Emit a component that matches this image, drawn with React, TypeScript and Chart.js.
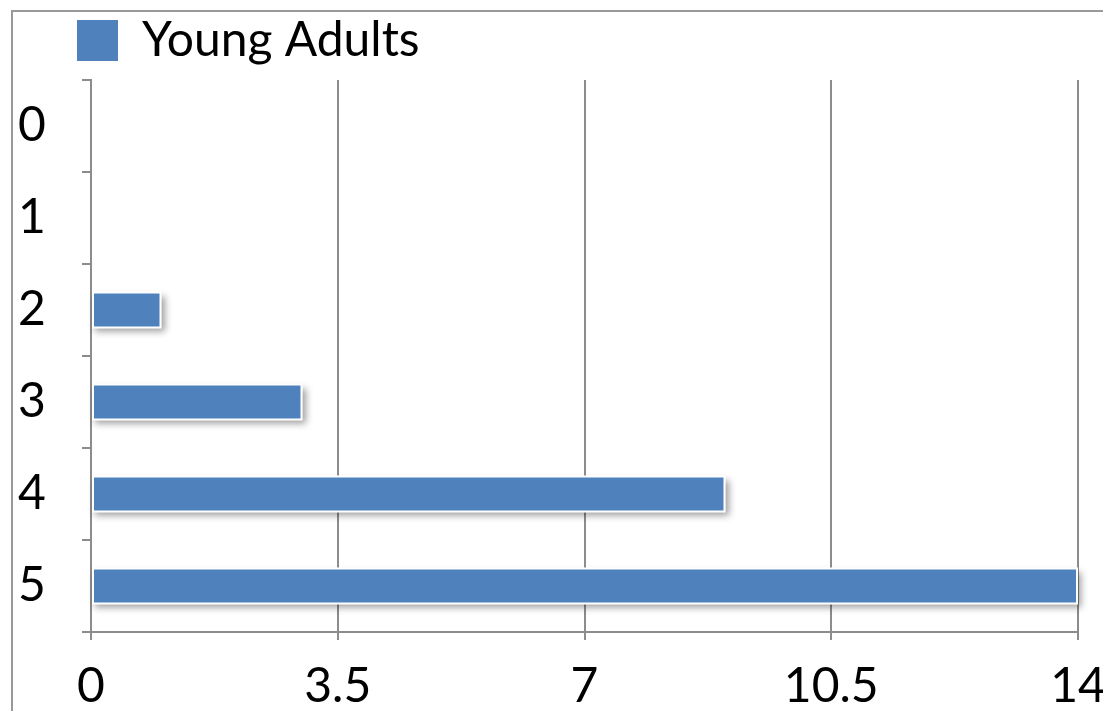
import React, { useEffect, useRef } from "react";
import { Chart, registerables } from "chart.js";

Chart.register(...registerables);

// Survey buckets (rows) and how many young adults chose each
const categories = ["0", "1", "2", "3", "4", "5"];
const youngAdults = [0, 0, 1, 3, 9, 14];
const seriesLabel = "Young Adults";

// Value axis ticks
const xTickValues = [0, 3.5, 7, 10.5, 14];

const CANVAS_W = 1160;
const CANVAS_H = 711;
const FONT_FAMILY = "Lato, 'Open Sans', sans-serif";
const AXIS_GREY = "#8c8c8c";
const BAR_BLUE = "#4F81BD";

// White page with the thin grey frame around the chart
const framePlugin = {
  id: "frame",
  beforeDraw(chart: any) {
    const { ctx, width, height } = chart;
    ctx.save();
    ctx.fillStyle = "#ffffff";
    ctx.fillRect(0, 0, width, height);
    ctx.strokeStyle = "#999999";
    ctx.lineWidth = 2;
    ctx.beginPath();
    ctx.moveTo(12, height + 10);
    ctx.lineTo(12, 11);
    ctx.lineTo(width + 10, 11);
    ctx.stroke();
    ctx.restore();
  },
};

// Soft drop shadow under every bar
const barShadowPlugin = {
  id: "barShadow",
  beforeDatasetsDraw(chart: any) {
    const { ctx } = chart;
    chart.data.datasets.forEach((_: any, di: number) => {
      const meta = chart.getDatasetMeta(di);
      meta.data.forEach((bar: any) => {
        const { x, y, base, height } = bar.getProps(["x", "y", "base", "height"], true);
        const left = Math.min(x, base);
        const w = Math.abs(x - base);
        if (w < 1) return;
        ctx.save();
        ctx.shadowColor = "rgba(0,0,0,0.38)";
        ctx.shadowBlur = 7;
        ctx.shadowOffsetX = 3;
        ctx.shadowOffsetY = 4;
        ctx.fillStyle = "#ffffff";
        ctx.fillRect(left, y - height / 2, w, height);
        ctx.restore();
      });
    });
  },
};

// Legend sits at the top-left with a fixed band height above the plot
const legendPlacePlugin = {
  id: "legendPlace",
  beforeLayout(chart: any) {
    const legend = chart.legend;
    if (legend && !legend.__fixedFit) {
      const fit = legend.fit.bind(legend);
      legend.fit = function () {
        fit();
        this.height = 80;
      };
      legend.__fixedFit = true;
    }
  },
  afterLayout(chart: any) {
    const legend = chart.legend;
    if (legend) {
      legend.left = 67;
      legend.top = 6.5;
    }
  },
};

export default function App() {
  const canvasRef = useRef<HTMLCanvasElement | null>(null);

  useEffect(() => {
    document.body.style.margin = "0";
    const canvas = canvasRef.current;
    if (!canvas) return;

    const chart = new Chart(canvas, {
      type: "bar",
      data: {
        labels: categories,
        datasets: [
          {
            label: seriesLabel,
            data: youngAdults,
            backgroundColor: BAR_BLUE,
            borderColor: "#ffffff",
            borderWidth: 2,
            borderSkipped: false,
            barPercentage: 0.4,
            categoryPercentage: 1.0,
          },
        ],
      },
      options: {
        indexAxis: "y",
        responsive: false,
        animation: false,
        devicePixelRatio: 1,
        layout: {
          padding: { top: 0, left: 18, right: CANVAS_W - 1078, bottom: 0 },
        },
        plugins: {
          tooltip: { enabled: false },
          legend: {
            display: true,
            position: "top",
            align: "start",
            labels: {
              boxWidth: 41,
              boxHeight: 41,
              padding: 10,
              color: "#000000",
              font: { family: FONT_FAMILY, size: 48 },
              generateLabels: (c: any) =>
                Chart.defaults.plugins.legend.labels
                  .generateLabels(c)
                  .map((item: any) => ({ ...item, lineWidth: 0, strokeStyle: BAR_BLUE })),
            },
          },
        },
        scales: {
          x: {
            type: "linear",
            position: "bottom",
            min: 0,
            max: 14,
            afterBuildTicks: (scale: any) => {
              scale.ticks = xTickValues.map((v) => ({ value: v }));
            },
            afterFit: (scale: any) => {
              scale.height = CANVAS_H - 632;
            },
            grid: {
              color: AXIS_GREY,
              lineWidth: 2,
              drawTicks: true,
              tickLength: 8,
            },
            border: { display: true, color: AXIS_GREY, width: 2 },
            ticks: {
              color: "#000000",
              font: { family: FONT_FAMILY, size: 48 },
              padding: 18,
              maxRotation: 0,
              autoSkip: false,
            },
          },
          y: {
            type: "category",
            afterFit: (scale: any) => {
              scale.width = 91 - 18;
            },
            grid: {
              color: AXIS_GREY,
              lineWidth: 2,
              drawOnChartArea: false,
              drawTicks: true,
              tickLength: 9,
              offset: true,
            },
            border: { display: true, color: AXIS_GREY, width: 2 },
            ticks: {
              color: "#000000",
              font: { family: FONT_FAMILY, size: 48 },
              crossAlign: "far",
              padding: 6,
            },
          },
        },
      },
      plugins: [framePlugin, barShadowPlugin, legendPlacePlugin],
    } as any);

    return () => chart.destroy();
  }, []);

  return (
    <div
      style={{
        position: "fixed",
        left: 0,
        top: 0,
        width: 1103,
        height: 711,
        overflow: "hidden",
        background: "#ffffff",
      }}
    >
      <canvas
        ref={canvasRef}
        width={CANVAS_W}
        height={CANVAS_H}
        style={{ display: "block", width: CANVAS_W, height: CANVAS_H }}
      />
    </div>
  );
}
